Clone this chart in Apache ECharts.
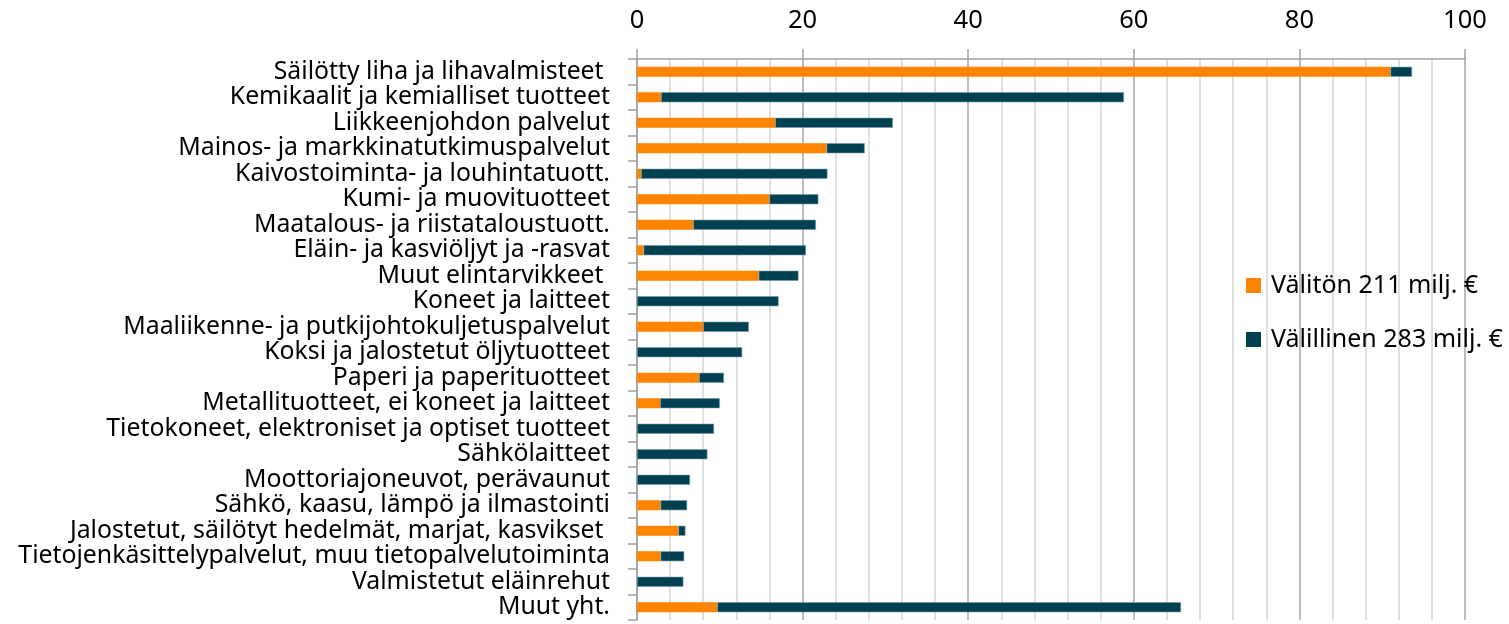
<!DOCTYPE html>
<html>
<head>
<meta charset="utf-8">
<script src="https://cdn.jsdelivr.net/npm/echarts@6/dist/echarts.min.js"></script>
<style>
html,body{margin:0;padding:0;background:#fff;}
#chart{width:1509px;height:624px;}
</style>
</head>
<body>
<div id="chart"></div>
<script>
const categories = [
  "Säilötty liha ja lihavalmisteet ",
  "Kemikaalit ja kemialliset tuotteet",
  "Liikkeenjohdon palvelut",
  "Mainos- ja markkinatutkimuspalvelut",
  "Kaivostoiminta- ja louhintatuott.",
  "Kumi- ja muovituotteet",
  "Maatalous- ja riistataloustuott.",
  "Eläin- ja kasviöljyt ja -rasvat",
  "Muut elintarvikkeet ",
  "Koneet ja laitteet",
  "Maaliikenne- ja putkijohtokuljetuspalvelut",
  "Koksi ja jalostetut öljytuotteet",
  "Paperi ja paperituotteet",
  "Metallituotteet, ei koneet ja laitteet",
  "Tietokoneet, elektroniset ja optiset tuotteet",
  "Sähkölaitteet",
  "Moottoriajoneuvot, perävaunut",
  "Sähkö, kaasu, lämpö ja ilmastointi",
  "Jalostetut, säilötyt hedelmät, marjat, kasvikset ",
  "Tietojenkäsittelypalvelut, muu tietopalvelutoiminta",
  "Valmistetut eläinrehut",
  "Muut yht."
];
const direct = [91.0, 2.9, 16.7, 22.9, 0.5, 16.0, 6.8, 0.8, 14.7, 0, 8.0, 0, 7.5, 2.8, 0, 0, 0, 2.85, 5.0, 2.85, 0, 9.7];
const indirect = [2.6, 55.9, 14.2, 4.6, 22.5, 5.9, 14.8, 19.6, 4.8, 17.1, 5.5, 12.7, 3.0, 7.2, 9.3, 8.5, 6.4, 3.2, 0.85, 2.85, 5.6, 56.0];
const seriesNames = ["Välitön 211 milj. €", "Välillinen 283 milj. €"];
const xTicks = [0, 20, 40, 60, 80, 100];

const FONT = "Noto Sans";
const chart = echarts.init(document.getElementById('chart'), null, {renderer: 'canvas'});
chart.setOption({
  animation: false,
  backgroundColor: '#fff',
  textStyle: {fontFamily: FONT},
  grid: {left: 637, right: 44, top: 59, bottom: 4, containLabel: false},
  legend: {
    orient: 'vertical',
    left: 1246, top: 273, padding: 0,
    itemWidth: 15, itemHeight: 15, itemGap: 29,
    icon: 'rect',
    itemStyle: {borderWidth: 0},
    textStyle: {fontFamily: FONT, fontSize: 25, color: '#000', padding: [0, 0, 0, 5]},
    data: seriesNames
  },
  xAxis: {
    type: 'value', position: 'top', min: xTicks[0], max: xTicks[xTicks.length - 1], interval: 20,
    axisLine: {show: true, lineStyle: {color: '#a0a0a0', width: 1.5}},
    axisTick: {show: true, length: 10, inside: false, lineStyle: {color: '#a0a0a0', width: 1.5}},
    axisLabel: {fontFamily: FONT, fontSize: 25.5, color: '#000', margin: 25},
    splitLine: {show: true, lineStyle: {color: '#a6a6a6', width: 1.5}},
    minorTick: {show: false, splitNumber: 5},
    minorSplitLine: {show: true, lineStyle: {color: '#d6d6d6', width: 1.5}}
  },
  yAxis: {
    type: 'category', inverse: true, data: categories,
    axisLine: {show: true, lineStyle: {color: '#a0a0a0', width: 1.5}},
    axisTick: {show: true, length: 9, alignWithLabel: false, lineStyle: {color: '#a0a0a0', width: 1.5}},
    axisLabel: {fontFamily: FONT, fontSize: 24.8, color: '#000', margin: 27, interval: 0, hideOverlap: false}
  },
  series: [
    {
      name: seriesNames[0], type: 'bar', stack: 'total', data: direct, barWidth: 10,
      itemStyle: {color: '#ff8400'}
    },
    {
      name: seriesNames[1], type: 'bar', stack: 'total', data: indirect, barWidth: 10,
      itemStyle: {color: '#004050', borderColor: '#6c98a4', borderWidth: 0.6}
    }
  ]
});
</script>
</body>
</html>
